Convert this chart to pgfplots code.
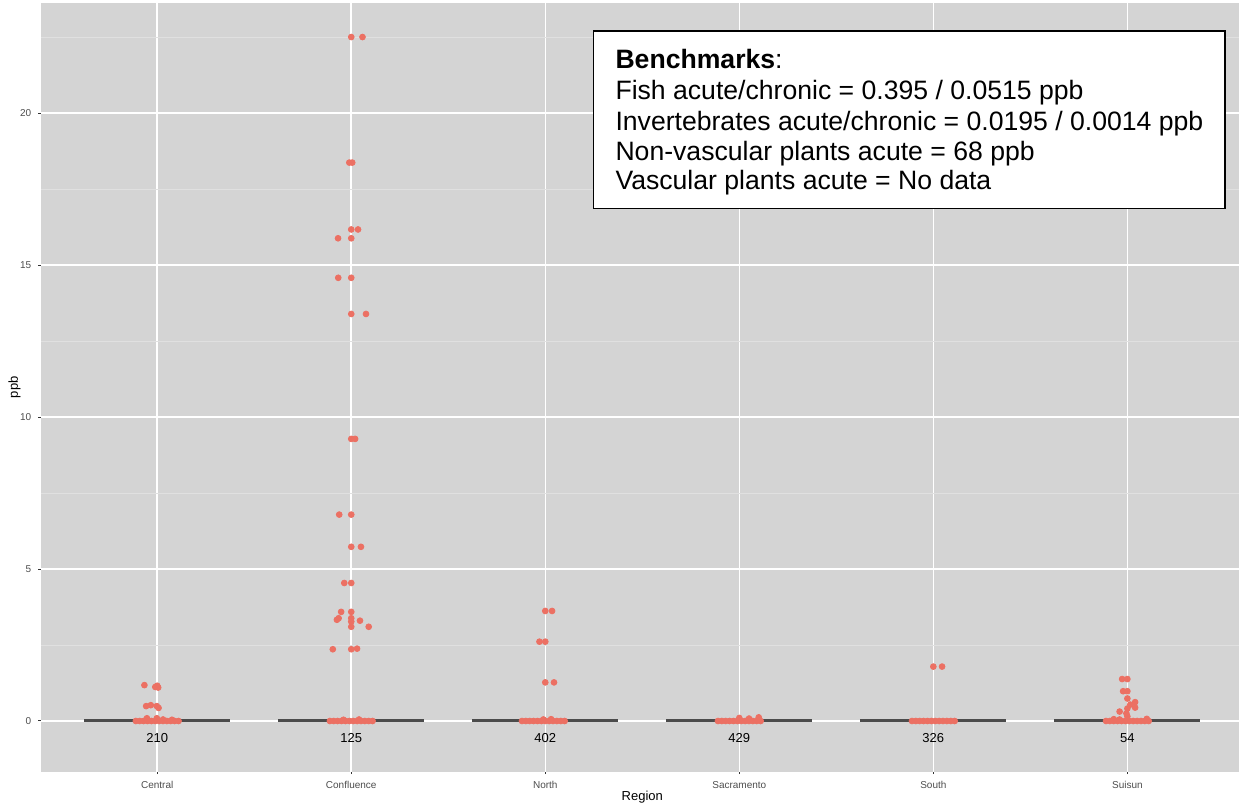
\documentclass[border=0pt]{standalone}
\usepackage{pgfplots}
\pgfplotsset{compat=1.18}
\usepackage{fontspec}
\setmainfont{Liberation Sans}
\definecolor{panelgray}{RGB}{212,212,212}
\definecolor{minorgrid}{RGB}{224,224,224}
\definecolor{pointcol}{RGB}{236,112,99}
\definecolor{boxcol}{RGB}{75,75,75}
\definecolor{tickgray}{RGB}{51,51,51}
\definecolor{labelgray}{RGB}{77,77,77}
\begin{document}
\begin{tikzpicture}
\begin{axis}[
  scale only axis, width=601.5pt, height=384.35pt,
  xmin=0.4, xmax=6.6, ymin=-1.668, ymax=23.62,
  xtick={1,2,3,4,5,6},
  xticklabels={Central,Confluence,North,Sacramento,South,Suisun},
  ytick={0,5,10,15,20},
  minor ytick={2.5,7.5,12.5,17.5,22.5},
  tick pos=left,
  grid=both,
  major grid style={white, line width=0.75pt},
  minor grid style={minorgrid, line width=0.4pt},
  axis line style={draw=none},
  tick align=outside, major tick length=1.25pt, minor tick length=0pt,
  tick style={tickgray, line width=0.5pt},
  ticklabel style={font=\fontsize{5}{6}\selectfont, text=labelgray},
  /pgf/number format/assume math mode=true,
  axis background/.style={fill=panelgray},
  every axis x label/.style={at={(rel axis cs:0.5,0)}, anchor=center, yshift=-12.6pt, font=\fontsize{6.5}{7}\selectfont},
  every axis y label/.style={at={(rel axis cs:0,0.5)}, anchor=center, xshift=-13.2pt, rotate=90, font=\fontsize{6.5}{7}\selectfont},
  xlabel={Region}, ylabel={ppb},
  pts/.style={only marks, mark=*, mark size=1.45pt, color=pointcol, mark options={draw=none, fill=pointcol}},
]
\coordinate (O) at (rel axis cs:0,0);
% collapsed boxplots
\addplot[boxcol, line width=1.5pt] coordinates {(0.624,0) (1.376,0)};
\addplot[boxcol, line width=1.5pt] coordinates {(1.624,0) (2.376,0)};
\addplot[boxcol, line width=1.5pt] coordinates {(2.624,0) (3.376,0)};
\addplot[boxcol, line width=1.5pt] coordinates {(3.624,0) (4.376,0)};
\addplot[boxcol, line width=1.5pt] coordinates {(4.624,0) (5.376,0)};
\addplot[boxcol, line width=1.5pt] coordinates {(5.624,0) (6.376,0)};
% zero-valued jittered points
\addplot[pts] coordinates {
(0.89,0) (0.91,0) (0.93,0) (0.95,0) (0.97,0) (0.99,0) (1.01,0) (1.03,0) (1.05,0) (1.07,0) (1.09,0) (1.11,0)
(1.89,0) (1.91,0) (1.93,0) (1.95,0) (1.97,0) (1.99,0) (2.01,0) (2.03,0) (2.05,0) (2.07,0) (2.09,0) (2.11,0)
(2.88,0) (2.90,0) (2.92,0) (2.94,0) (2.96,0) (2.98,0) (3.00,0) (3.02,0) (3.04,0) (3.06,0) (3.08,0) (3.10,0)
(3.89,0) (3.91,0) (3.93,0) (3.95,0) (3.97,0) (3.99,0) (4.01,0) (4.03,0) (4.05,0) (4.07,0) (4.09,0) (4.11,0)
(4.89,0) (4.91,0) (4.93,0) (4.95,0) (4.97,0) (4.99,0) (5.01,0) (5.03,0) (5.05,0) (5.07,0) (5.09,0) (5.11,0)
(5.89,0) (5.91,0) (5.93,0) (5.95,0) (5.97,0) (5.99,0) (6.01,0) (6.03,0) (6.05,0) (6.07,0) (6.09,0) (6.11,0)
};
% Central
\addplot[pts] coordinates {
(0.934,1.18) (0.99,1.12) (1.0,1.16) (1.005,1.10)
(0.943,0.49) (0.967,0.52) (0.998,0.49) (1.007,0.43)
(0.947,0.09) (0.998,0.09) (1.076,0.04) (1.03,0.05)
};
% Confluence
\addplot[pts] coordinates {
(2.0,22.5) (2.058,22.5)
(1.99,18.37) (2.005,18.37)
(2.0,16.17) (2.035,16.17)
(1.932,15.88) (2.0,15.88)
(1.933,14.58) (2.0,14.58)
(2.0,13.39) (2.076,13.39)
(2.0,9.28) (2.02,9.28)
(1.938,6.79) (2.0,6.79)
(2.0,5.73) (2.05,5.73)
(1.964,4.54) (2.0,4.54)
(1.948,3.59) (2.0,3.59)
(1.935,3.38) (1.926,3.33) (2.0,3.38) (2.0,3.27) (2.045,3.30)
(2.0,3.10) (2.09,3.10)
(1.905,2.36) (2.0,2.36) (2.03,2.38)
(1.96,0.04) (2.04,0.05)
};
% North
\addplot[pts] coordinates {
(3.0,3.62) (3.035,3.62)
(2.97,2.61) (3.0,2.61)
(3.0,1.27) (3.045,1.27)
(2.99,0.05) (3.03,0.06)
};
% Sacramento
\addplot[pts] coordinates {
(4.0,0.1) (4.05,0.08) (4.1,0.12)
};
% South
\addplot[pts] coordinates {
(5.0,1.79) (5.045,1.79)
};
% Suisun
\addplot[pts] coordinates {
(5.973,1.38) (6.0,1.38)
(5.978,0.98) (6.0,0.98)
(6.0,0.74) (6.04,0.62) (6.015,0.54) (6.04,0.44) (6.0,0.41)
(5.96,0.31) (5.995,0.25) (6.0,0.15)
(5.93,0.06) (5.96,0.05) (6.1,0.07)
};
% counts
\addplot[draw=none, mark=none, nodes near coords, point meta=explicit symbolic,
  every node near coord/.style={anchor=center, font=\fontsize{6.5}{7}\selectfont, text=black}]
  table[meta=lab] {
x y lab
1 -0.55 210
2 -0.55 125
3 -0.55 402
4 -0.55 429
5 -0.55 326
6 -0.55 54
};
% benchmarks box
\draw[black, line width=0.9pt, fill=white] (axis cs:3.248,22.71) rectangle (axis cs:6.504,16.86);
\node[anchor=base west, inner sep=0pt, font=\fontsize{13.3}{15}\selectfont] at (axis cs:3.360,21.47) {\textbf{Benchmarks}:};
\node[anchor=base west, inner sep=0pt, font=\fontsize{13.3}{15}\selectfont] at (axis cs:3.360,20.43) {Fish acute/chronic = 0.395 / 0.0515 ppb};
\node[anchor=base west, inner sep=0pt, font=\fontsize{13.3}{15}\selectfont] at (axis cs:3.360,19.44) {Invertebrates acute/chronic = 0.0195 / 0.0014 ppb};
\node[anchor=base west, inner sep=0pt, font=\fontsize{13.3}{15}\selectfont] at (axis cs:3.360,18.45) {Non-vascular plants acute = 68 ppb};
\node[anchor=base west, inner sep=0pt, font=\fontsize{13.3}{15}\selectfont] at (axis cs:3.360,17.47) {Vascular plants acute = No data};
\end{axis}
\pgfresetboundingbox
\path (O) ++(-20.4pt,-16.65pt) rectangle ++(619.5pt,402.5pt);
\end{tikzpicture}
\end{document}
